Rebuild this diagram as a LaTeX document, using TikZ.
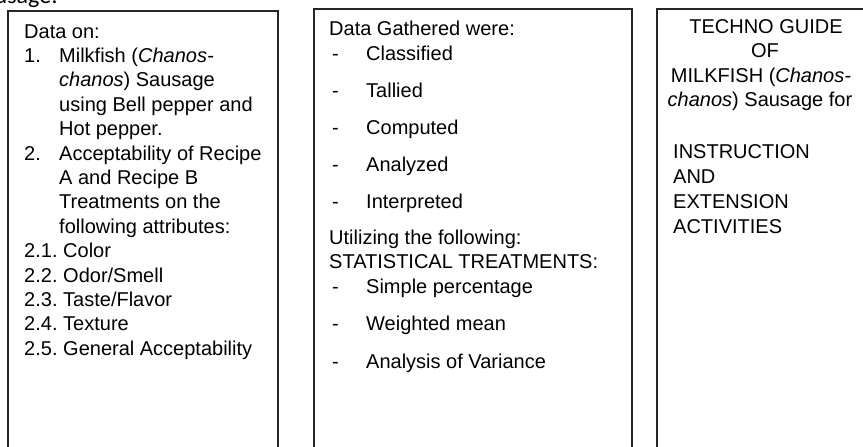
\documentclass[tikz,border=0pt]{standalone}
\usepackage{fontspec}
\setmainfont{Liberation Sans}
\newfontfamily\calib{Carlito}
\begin{document}
\begin{tikzpicture}[x=1pt,y=-1pt,
  frame/.style={draw=black!85, line width=1.3pt, outer sep=0pt, inner sep=0pt, anchor=north west},
  txt/.style={anchor=base west, inner sep=0pt, font=\fontsize{20}{24}\selectfont},
  ctxt/.style={anchor=base, inner sep=0pt, font=\fontsize{20}{24}\selectfont}]
\useasboundingbox (0,0) rectangle (863,447);
% cut-off heading above the boxes
\node[anchor=base west, inner sep=0pt, font=\calib\fontsize{24}{28}\selectfont] (head) at (-28,4) {Sausage:};
% frames
\node[frame, minimum width=270pt, minimum height=480pt] (b1) at (8,11) {};
\node[frame, minimum width=318pt, minimum height=480pt] (b2) at (314,9) {};
\node[frame, minimum width=260pt, minimum height=480pt] (b3) at (657,9) {};
% box 1
\node[txt] (a0) at (24,38) {Data on:};
\node[txt] (a1n) at (24,62.4) {1.};
\node[txt] (a1) at (59,62.4) {Milkfish (\textit{Chanos-}};
\node[txt] (a2) at (59,86.8) {\textit{chanos}) Sausage};
\node[txt] (a3) at (59,111.2) {using Bell pepper and};
\node[txt] (a4) at (59,135.6) {Hot pepper.};
\node[txt] (a5n) at (24,160) {2.};
\node[txt] (a5) at (59,160) {Acceptability of Recipe};
\node[txt] (a6) at (59,184.4) {A and Recipe B};
\node[txt] (a7) at (59,208.8) {Treatments on the};
\node[txt] (a8) at (59,233.2) {following attributes:};
\node[txt] (a9n) at (24,257.6) {2.1.};
\node[txt] (a9) at (63,257.6) {Color};
\node[txt] (a10n) at (24,282) {2.2.};
\node[txt] (a10) at (63,282) {Odor/Smell};
\node[txt] (a11n) at (24,306.4) {2.3.};
\node[txt] (a11) at (63,306.4) {Taste/Flavor};
\node[txt] (a12n) at (24,330.8) {2.4.};
\node[txt] (a12) at (63,330.8) {Texture};
\node[txt] (a13n) at (24,355.2) {2.5.};
\node[txt] (a13) at (63,355.2) {General Acceptability};
% box 2
\node[txt] (c0) at (329,35) {Data Gathered were:};
\node[txt] (c1d) at (332,60) {-};
\node[txt] (c1) at (366,60) {Classified};
\node[txt] (c2d) at (332,97) {-};
\node[txt] (c2) at (366,97) {Tallied};
\node[txt] (c3d) at (332,134) {-};
\node[txt] (c3) at (366,134) {Computed};
\node[txt] (c4d) at (332,171) {-};
\node[txt] (c4) at (366,171) {Analyzed};
\node[txt] (c5d) at (332,208) {-};
\node[txt] (c5) at (366,208) {Interpreted};
\node[txt] (c6) at (329,244) {Utilizing the following:};
\node[txt] (c7) at (329,268) {STATISTICAL TREATMENTS:};
\node[txt] (c8d) at (332,293) {-};
\node[txt] (c8) at (366,293) {Simple percentage};
\node[txt] (c9d) at (332,330) {-};
\node[txt] (c9) at (366,330) {Weighted mean};
\node[txt] (c10d) at (332,368) {-};
\node[txt] (c10) at (366,368) {Analysis of Variance};
% box 3
\node[ctxt] (d0) at (766,33) {TECHNO GUIDE};
\node[ctxt] (d1) at (765,57) {OF};
\node[ctxt] (d2) at (761,82) {MILKFISH (\textit{Chanos-}};
\node[ctxt] (d3) at (760,106) {\textit{chanos}) Sausage for};
\node[txt] (d4) at (673,158) {INSTRUCTION};
\node[txt] (d5) at (673,183) {AND};
\node[txt] (d6) at (673,208) {EXTENSION};
\node[txt] (d7) at (673,233) {ACTIVITIES};
\end{tikzpicture}
\end{document}
